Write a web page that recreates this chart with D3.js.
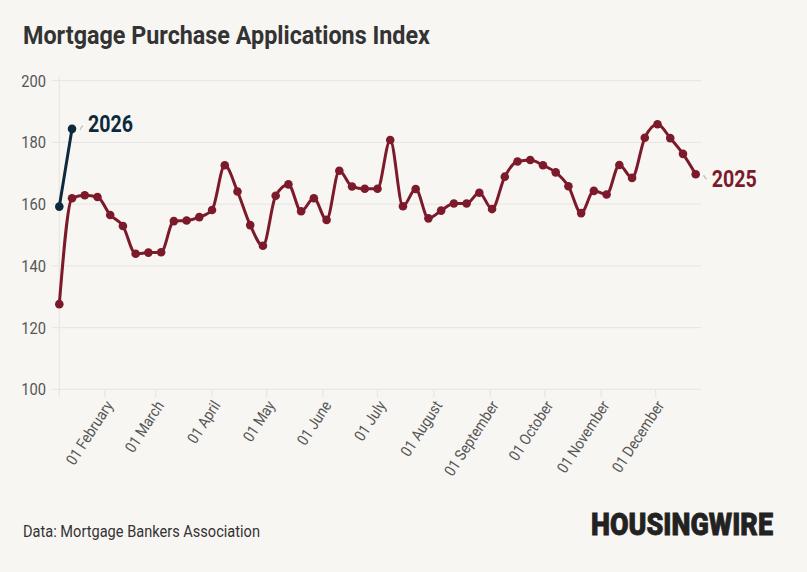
<!doctype html>
<html>
<head>
<meta charset="UTF-8">
<title>Mortgage Purchase Applications Index</title>
<script src="https://d3js.org/d3.v7.min.js"></script>
<style>
  body { margin: 0; background: #f8f6f3; }
  svg { display: block; font-family: Roboto, "Noto Sans", sans-serif; }
</style>
</head>
<body>
<script>
// weekly dates (2026 points are drawn on the same calendar as 2025)
var weeks2025 = ["2025-01-07","2025-01-14","2025-01-21","2025-01-28","2025-02-04","2025-02-11","2025-02-18","2025-02-25",
  "2025-03-04","2025-03-11","2025-03-18","2025-03-25","2025-04-01","2025-04-08","2025-04-15","2025-04-22","2025-04-29",
  "2025-05-06","2025-05-13","2025-05-20","2025-05-27","2025-06-03","2025-06-10","2025-06-17","2025-06-24",
  "2025-07-01","2025-07-08","2025-07-15","2025-07-22","2025-07-29","2025-08-05","2025-08-12","2025-08-19","2025-08-26",
  "2025-09-02","2025-09-09","2025-09-16","2025-09-23","2025-09-30","2025-10-07","2025-10-14","2025-10-21","2025-10-28",
  "2025-11-04","2025-11-11","2025-11-18","2025-11-25","2025-12-02","2025-12-09","2025-12-16","2025-12-23"];
var values2025 = [127.6, 161.9, 162.9, 162.3, 156.5, 152.9, 143.9, 144.3, 144.4, 154.5, 154.7, 155.8, 158.1,
  172.6, 164.1, 153.2, 146.5, 162.7, 166.4, 157.7, 161.9, 154.9, 170.8, 165.7, 165.0, 165.0, 180.8,
  159.3, 164.9, 155.4, 157.9, 160.2, 160.2, 163.7, 158.4, 168.9, 173.8, 174.3, 172.6, 170.3, 165.8,
  157.1, 164.3, 163.1, 172.7, 168.5, 181.5, 185.9, 181.4, 176.3, 169.7];
var weeks2026 = ["2025-01-07","2025-01-14"];
var values2026 = [159.2, 184.4];
var yTicks = [100, 120, 140, 160, 180, 200];
var monthTicks = ["2025-02-01","2025-03-01","2025-04-01","2025-05-01","2025-06-01","2025-07-01",
  "2025-08-01","2025-09-01","2025-10-01","2025-11-01","2025-12-01"];

var W = 807, H = 572;
var c2025 = "#7c1a2b", c2026 = "#0d2a3c";
var parse = d3.timeParse("%Y-%m-%d");

var svg = d3.select("body").append("svg").attr("width", W).attr("height", H);
svg.append("rect").attr("width", W).attr("height", H).attr("fill", "#f8f6f3");

var x = d3.scaleTime()
  .domain([parse(weeks2025[0]), parse(weeks2025[weeks2025.length - 1])])
  .range([59.3, 695.7]);
var y = d3.scaleLinear().domain([100, 200]).range([389.3, 80.7]);

// grid
svg.append("g").selectAll("line").data(yTicks).join("line")
  .attr("x1", 52).attr("x2", 701)
  .attr("y1", function (d) { return y(d); }).attr("y2", function (d) { return y(d); })
  .attr("stroke", "#e9e7e4").attr("stroke-width", 1.3);
svg.append("line").attr("x1", 59.3).attr("x2", 59.3).attr("y1", 77).attr("y2", 397)
  .attr("stroke", "#e9e7e4").attr("stroke-width", 1.3);

// y labels
svg.append("g").selectAll("text").data(yTicks).join("text")
  .attr("class", "cond")
  .attr("x", 46).attr("y", function (d) { return y(d); }).attr("dy", "0.36em")
  .attr("text-anchor", "end").attr("font-size", 16.5).attr("fill", "#555")
  .text(function (d) { return d; });

// x axis ticks + labels
var fmt = d3.timeFormat("%d %B");
var xt = svg.append("g").selectAll("g").data(monthTicks).join("g")
  .attr("transform", function (d) { return "translate(" + x(parse(d)) + ",389.3)"; });
xt.append("line").attr("y2", 8).attr("stroke", "#e9e7e4").attr("stroke-width", 1.3);
xt.append("text").attr("class", "cond")
  .attr("transform", "translate(9,16) rotate(-57)")
  .attr("text-anchor", "end").attr("font-size", 15.5).attr("fill", "#555")
  .text(function (d) { return fmt(parse(d)); });

// lines
var line = d3.line().curve(d3.curveMonotoneX)
  .x(function (d) { return x(parse(d[0])); }).y(function (d) { return y(d[1]); });
var d25 = d3.zip(weeks2025, values2025), d26 = d3.zip(weeks2026, values2026);

svg.append("path").datum(d25).attr("d", line).attr("fill", "none")
  .attr("stroke", c2025).attr("stroke-width", 3).attr("stroke-linejoin", "round");
svg.append("g").selectAll("circle").data(d25).join("circle")
  .attr("cx", function (d) { return x(parse(d[0])); }).attr("cy", function (d) { return y(d[1]); })
  .attr("r", 4.3).attr("fill", c2025);

svg.append("path").datum(d26).attr("d", line).attr("fill", "none")
  .attr("stroke", c2026).attr("stroke-width", 3);
svg.append("g").selectAll("circle").data(d26).join("circle")
  .attr("cx", function (d) { return x(parse(d[0])); }).attr("cy", function (d) { return y(d[1]); })
  .attr("r", 4.3).attr("fill", c2026);

// end labels
var last25 = d25[d25.length - 1], last26 = d26[d26.length - 1];
var lx25 = x(parse(last25[0])), ly25 = y(last25[1]);
var lx26 = x(parse(last26[0])), ly26 = y(last26[1]);
svg.append("path").attr("d", "M" + (lx25 + 8) + "," + (ly25 + 1) + " q1,3 3,4")
  .attr("fill", "none").attr("stroke", "#bbb").attr("stroke-width", 1.2);
svg.append("text").attr("x", lx25 + 16).attr("y", ly25 + 12.5)
  .attr("font-size", 23).attr("font-weight", 700).attr("fill", c2025)
  .attr("textLength", 45).attr("lengthAdjust", "spacingAndGlyphs").text("2025");
svg.append("path").attr("d", "M" + (lx26 + 8) + "," + (ly26 + 1) + " q1,-3 3,-4")
  .attr("fill", "none").attr("stroke", "#bbb").attr("stroke-width", 1.2);
svg.append("text").attr("x", lx26 + 16).attr("y", ly26 + 2.7)
  .attr("font-size", 23).attr("font-weight", 700).attr("fill", c2026)
  .attr("textLength", 45).attr("lengthAdjust", "spacingAndGlyphs").text("2026");

// title + footer
svg.append("text").attr("x", 23).attr("y", 44)
  .attr("font-size", 26.5).attr("font-weight", 700).attr("fill", "#333")
  .attr("textLength", 407).attr("lengthAdjust", "spacingAndGlyphs")
  .text("Mortgage Purchase Applications Index");
svg.append("text").attr("x", 23).attr("y", 537)
  .attr("font-size", 16.5).attr("fill", "#333")
  .attr("textLength", 237).attr("lengthAdjust", "spacingAndGlyphs")
  .text("Data: Mortgage Bankers Association");
svg.append("text").attr("x", 591).attr("y", 535)
  .attr("font-size", 31).attr("font-weight", 900).attr("fill", "#222")
  .attr("stroke", "#222").attr("stroke-width", 0.8)
  .attr("textLength", 182).attr("lengthAdjust", "spacingAndGlyphs")
  .text("HOUSINGWIRE");

// squeeze tick text to look like a condensed face
svg.selectAll("text.cond").each(function () {
  d3.select(this).attr("textLength", this.getComputedTextLength() * 0.89)
    .attr("lengthAdjust", "spacingAndGlyphs");
});
</script>
</body>
</html>
